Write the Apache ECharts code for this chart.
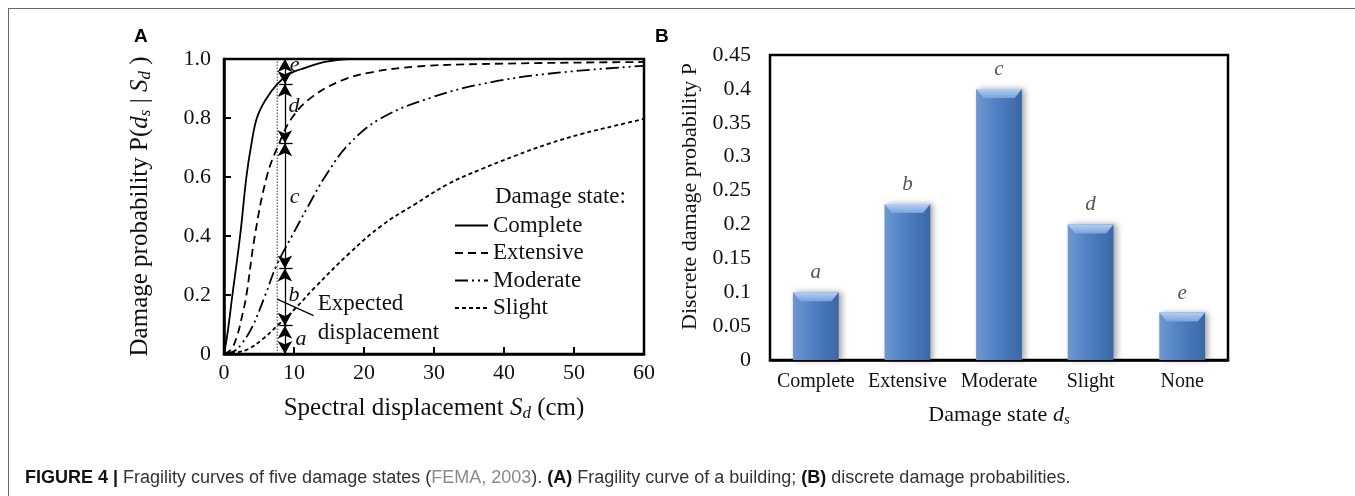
<!DOCTYPE html>
<html>
<head>
<meta charset="utf-8">
<script src="https://cdn.jsdelivr.net/npm/echarts@6/dist/echarts.min.js"></script>
<style>
  html, body { margin: 0; padding: 0; background: #fff; }
  #wrap { position: relative; width: 1355px; height: 496px; overflow: hidden; }
  #frame { position: absolute; left: 8px; top: 8px; width: 1400px; height: 600px;
           border-left: 1.5px solid #666; border-top: 1.5px solid #666; }
  #chart { position: absolute; left: 0; top: 0; width: 1355px; height: 496px; }
  #caption { position: absolute; left: 25px; top: 467px; font-family: "Liberation Sans Narrow", "Arial Narrow", "Liberation Sans", sans-serif;
             font-stretch: condensed; font-size: 18px; color: #333; white-space: nowrap; }
  #caption b { color: #111; }
  #caption .ref { color: #8a8a8a; }
</style>
</head>
<body>
<div id="wrap">
  <div id="frame"></div>
  <div id="chart"></div>
  <div id="caption"><b>FIGURE 4 |</b> Fragility curves of five damage states (<span class="ref">FEMA, 2003</span>). <b>(A)</b> Fragility curve of a building; <b>(B)</b> discrete damage probabilities.</div>
</div>
<script>
// fragility curves: [Sd (cm), P]
const complete = [[0,0],[0.5,0.07],[1.2,0.2],[2.3,0.4],[3.2,0.6],[3.9,0.71],[4.7,0.8],[5.9,0.86],[7.6,0.915],[9.4,0.95],[11.6,0.97],[14.4,0.99],[18,1.0],[60,1.0]];
const extensive = [[0,0],[1,0.015],[1.8,0.056],[2.5,0.12],[3.2,0.2],[4.4,0.4],[6.1,0.6],[7.8,0.71],[9.7,0.8],[12.5,0.87],[16.8,0.927],[21.1,0.955],[27.3,0.974],[36.8,0.983],[60,0.99]];
const moderate = [[0,0],[1.5,0.01],[2.5,0.034],[4,0.09],[5.9,0.2],[7.5,0.3],[9.7,0.4],[12,0.5],[14.4,0.6],[17.8,0.71],[22.5,0.8],[29.7,0.87],[36.8,0.915],[46.3,0.95],[60,0.977]];
const slight = [[0,0],[2,0.006],[3.5,0.017],[5.5,0.05],[7.8,0.1],[10,0.15],[13,0.226],[17.8,0.339],[22.5,0.435],[27.3,0.508],[32,0.576],[36.8,0.627],[41.6,0.672],[46.3,0.712],[51.1,0.746],[55.9,0.774],[60,0.797]];

// expected displacement marker and the a..e intervals
const expectedSd = 7.6;
const arrowSd = 8.7;
const bounds = [0, 0.096, 0.29, 0.714, 0.915, 1.0];
const tickSpan = [7.9, 9.8];
const letterPos = [[11.0,0.05],[10.0,0.2],[10.1,0.53],[10.0,0.84],[10.1,0.98]];
const leader = [[7.6,0.186],[12.8,0.13]];
const noteLines = [['Expected',13.4,0.17],['displacement',13.4,0.073]];

// discrete probabilities
const states = ['Complete','Extensive','Moderate','Slight','None'];
const probs = [0.1, 0.23, 0.4, 0.2, 0.07];
const letters = ['a','b','c','d','e'];

const serif = '"Liberation Serif", "Times New Roman", serif';
const ink = '#111';

const chart = echarts.init(document.getElementById('chart'), null, { renderer: 'canvas' });

function curve(name, data, type) {
  return {
    name: name, type: 'line', data: data, xAxisIndex: 0, yAxisIndex: 0,
    smooth: 0.4, showSymbol: false, symbol: 'none', silent: true,
    itemStyle: { color: '#000' },
    lineStyle: { color: '#000', width: 1.8, type: type },
    z: 3
  };
}

const arrowData = [];
for (let i = 0; i < bounds.length - 1; i++) {
  arrowData.push([{ coord: [arrowSd, bounds[i]] }, { coord: [arrowSd, bounds[i + 1]] }]);
}
const tickData = bounds.slice(1, -1).map(b => [{ coord: [tickSpan[0], b] }, { coord: [tickSpan[1], b] }]);

function richName(size) {
  return {
    i: { fontStyle: 'italic', fontFamily: serif, fontSize: size, color: ink },
    sub: { fontStyle: 'italic', fontFamily: serif, fontSize: Math.round(size * 0.68), color: ink, padding: [11, 0, 0, 0] }
  };
}

const option = {
  animation: false,
  backgroundColor: 'transparent',
  textStyle: { fontFamily: serif, color: ink },
  title: [
    { text: 'A', left: 129, top: 22, textStyle: { fontFamily: '"Liberation Sans", Arial, sans-serif', fontWeight: 'bold', fontSize: 19, color: '#000' } },
    { text: 'B', left: 650, top: 22, textStyle: { fontFamily: '"Liberation Sans", Arial, sans-serif', fontWeight: 'bold', fontSize: 19, color: '#000' } },
    { text: 'Damage state:', left: 490, top: 180, textStyle: { fontFamily: serif, fontWeight: 'normal', fontSize: 23, color: ink } }
  ],
  legend: {
    data: ['Complete','Extensive','Moderate','Slight'],
    orient: 'vertical', left: 449, top: 209, itemWidth: 33, itemHeight: 12, itemGap: 4.5,
    itemStyle: { opacity: 0 },
    textStyle: { fontFamily: serif, fontSize: 23, color: ink, padding: [0,0,0,0] },
    selectedMode: false
  },
  grid: [
    { left: 224, top: 59, width: 420, height: 295, show: true, borderColor: '#000', borderWidth: 2.5, backgroundColor: 'transparent' },
    { left: 770, top: 55, width: 458, height: 305, show: true, borderColor: '#000', borderWidth: 2.5, backgroundColor: 'transparent' }
  ],
  xAxis: [
    {
      gridIndex: 0, type: 'value', min: 0, max: 60, interval: 10,
      axisLine: { lineStyle: { color: '#000', width: 2.5 } },
      axisTick: { inside: true, length: 7, lineStyle: { color: '#000', width: 2 } },
      splitLine: { show: false },
      axisLabel: { fontFamily: serif, fontSize: 22, color: ink, margin: 8 },
      name: 'Spectral displacement {i|S}{sub|d} (cm)', nameLocation: 'middle', nameGap: 40,
      nameTextStyle: { fontFamily: serif, fontSize: 25, color: ink, rich: richName(25) }
    },
    {
      gridIndex: 1, type: 'category', data: states,
      axisLine: { lineStyle: { color: '#000', width: 2.5 } },
      axisTick: { show: false },
      axisLabel: { fontFamily: serif, fontSize: 20, color: ink, margin: 12, interval: 0 },
      name: 'Damage state {i|d}{sub|s}', nameLocation: 'middle', nameGap: 42,
      nameTextStyle: { fontFamily: serif, fontSize: 22, color: ink, rich: richName(22) }
    }
  ],
  yAxis: [
    {
      gridIndex: 0, type: 'value', min: 0, max: 1, interval: 0.2,
      axisLine: { lineStyle: { color: '#000', width: 2.5 } },
      axisTick: { inside: true, length: 7, lineStyle: { color: '#000', width: 2 } },
      splitLine: { show: false },
      axisLabel: { fontFamily: serif, fontSize: 22, color: ink, margin: 13,
                   formatter: v => v === 0 ? '0' : v.toFixed(1) },
      name: 'Damage probability P({i|d}{sub|s} | {i|S}{sub|d} )', nameLocation: 'middle', nameGap: 70,
      nameTextStyle: { fontFamily: serif, fontSize: 25, color: ink, rich: richName(25) }
    },
    {
      gridIndex: 1, type: 'value', min: 0, max: 0.45, interval: 0.05,
      axisLine: { lineStyle: { color: '#000', width: 2.5 } },
      axisTick: { inside: true, length: 7, lineStyle: { color: '#000', width: 2 } },
      splitLine: { show: false },
      axisLabel: { fontFamily: serif, fontSize: 22, color: ink, margin: 19 },
      name: 'Discrete damage probability P', nameLocation: 'middle', nameGap: 69,
      nameTextStyle: { fontFamily: serif, fontSize: 22, color: ink, padding: [0, 0, 0, 22] }
    }
  ],
  series: [
    curve('Complete', complete, 'solid'),
    curve('Extensive', extensive, [8, 5]),
    curve('Moderate', moderate, [13, 4, 2, 4, 2, 4]),
    curve('Slight', slight, [4, 3]),
    {
      name: 'expected', type: 'line', xAxisIndex: 0, yAxisIndex: 0, silent: true,
      data: [[expectedSd, 0], [expectedSd, 1]], symbol: 'none',
      lineStyle: { color: '#333', width: 1, type: [1.5, 1.5] }, z: 2
    },
    {
      name: 'leader', type: 'line', xAxisIndex: 0, yAxisIndex: 0, silent: true,
      data: leader, symbol: 'none', lineStyle: { color: '#000', width: 1.2 }, z: 4
    },
    {
      name: 'arrows', type: 'scatter', xAxisIndex: 0, yAxisIndex: 0, silent: true, data: [],
      markLine: {
        silent: true, animation: false, symbol: ['arrow', 'arrow'], symbolSize: [11, 13],
        label: { show: false }, lineStyle: { color: '#000', width: 1.3, type: 'solid' },
        data: arrowData
      }
    },
    {
      name: 'bounds', type: 'scatter', xAxisIndex: 0, yAxisIndex: 0, silent: true, data: [],
      markLine: {
        silent: true, animation: false, symbol: ['none', 'none'],
        label: { show: false }, lineStyle: { color: '#000', width: 1.3, type: 'solid' },
        data: tickData
      }
    },
    {
      name: 'letters', type: 'scatter', xAxisIndex: 0, yAxisIndex: 0, silent: true,
      symbolSize: 0, itemStyle: { color: '#000', opacity: 1 },
      data: letterPos.map((p, i) => ({ value: p, name: letters[i] })),
      label: { show: true, position: 'inside', formatter: '{b}', fontFamily: serif, fontStyle: 'italic', fontSize: 22, color: ink },
      z: 5
    },
    {
      name: 'note', type: 'scatter', xAxisIndex: 0, yAxisIndex: 0, silent: true,
      symbolSize: 0, itemStyle: { color: '#000', opacity: 1 },
      data: noteLines.map(n => ({ value: [n[1], n[2]], name: n[0] })),
      label: { show: true, position: 'right', distance: 0, formatter: '{b}', fontFamily: serif, fontSize: 23, color: ink },
      z: 5
    },
    {
      name: 'discrete', type: 'bar', xAxisIndex: 1, yAxisIndex: 1, barWidth: '50%',
      data: probs,
      itemStyle: {
        color: new echarts.graphic.LinearGradient(0, 0, 1, 0, [
          { offset: 0, color: '#6e97d1' },
          { offset: 0.45, color: '#4f80c3' },
          { offset: 1, color: '#3a67a6' }
        ]),
        shadowColor: 'rgba(0,0,0,0.35)', shadowBlur: 6, shadowOffsetX: 3
      },
      label: {
        show: true, position: 'top', distance: 9,
        formatter: p => letters[p.dataIndex],
        fontFamily: serif, fontStyle: 'italic', fontSize: 21, color: '#555'
      }
    },
    {
      name: 'bevel', type: 'pictorialBar', xAxisIndex: 1, yAxisIndex: 1, silent: true,
      barWidth: '50%', barGap: '-100%', symbolPosition: 'end', symbolSize: ['100%', 9], symbolOffset: [0, 0],
      symbol: 'path://M0,0 L100,0 L84,15 L16,15 Z',
      data: probs,
      itemStyle: {
        color: new echarts.graphic.LinearGradient(0, 0, 0, 1, [
          { offset: 0, color: '#b5d0f2' },
          { offset: 1, color: '#7aa3da' }
        ])
      },
      z: 3
    }
  ]
};

chart.setOption(option);
</script>
</body>
</html>
